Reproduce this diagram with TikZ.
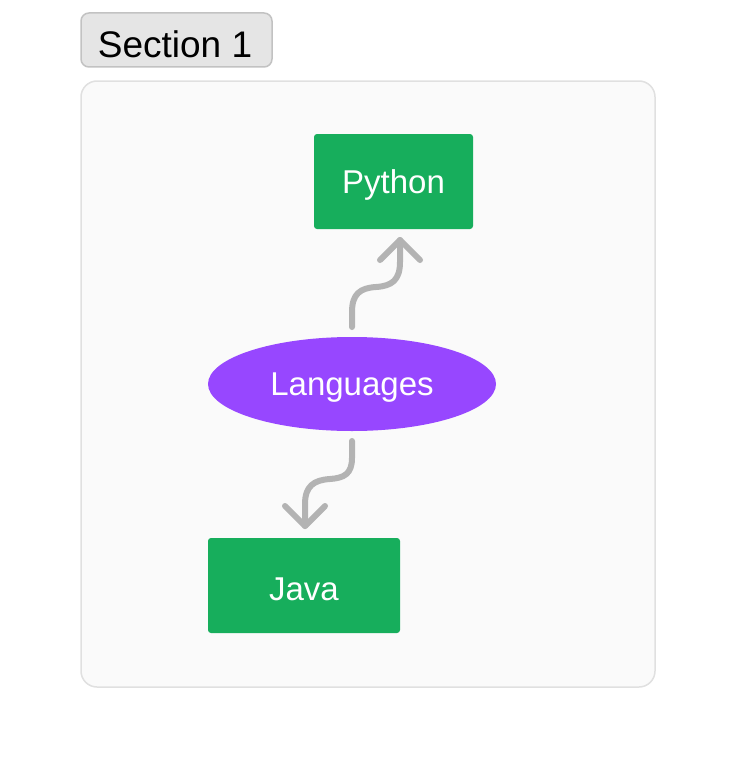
\documentclass[tikz,border=0pt]{standalone}
\usepackage{fontspec}
\setmainfont{Liberation Sans}
\definecolor{grn}{HTML}{17AE5C}
\definecolor{pur}{HTML}{9747FF}
\definecolor{conc}{HTML}{B3B3B3}
\definecolor{panelfill}{HTML}{FAFAFA}
\definecolor{panelline}{HTML}{E0E0E0}
\definecolor{tagfill}{HTML}{E5E5E5}
\definecolor{tagline}{HTML}{C2C2C2}
\begin{document}
\begin{tikzpicture}[x=1pt,y=-1pt,
  tag/.style={draw=tagline,fill=tagfill,line width=1.5pt,rounded corners=8pt},
  panel/.style={draw=panelline,fill=panelfill,line width=1.5pt,rounded corners=16pt},
  box/.style={fill=grn,rounded corners=3pt},
  lbl/.style={text=white,font=\fontsize{33}{40}\selectfont},
  conn/.style={draw=conc,line width=6pt,line cap=round,line join=round}]
\useasboundingbox (0,0) rectangle (736,768);
\draw[tag] (81,13) rectangle (272,67);
\node[text=black,font=\fontsize{37}{44}\selectfont] (sec) at (175,44) {Section 1};
\draw[panel] (81,81) rectangle (655,687);
\fill[box] (314,134) rectangle (473,229);
\node[lbl] (py) at (393.5,185) {Python};
\fill[box] (208,538) rectangle (400,633);
\node[lbl] (java) at (304,589) {Java};
\fill[pur] (352,384) ellipse [x radius=144, y radius=47];
\node[lbl] (lang) at (352,388) {Languages};
\coordinate (s1) at (352,327);
\coordinate (t1) at (400,240);
\coordinate (s2) at (352,441);
\coordinate (t2) at (305,526);
\draw[conn] (s1) -- (352,312) .. controls (352,294) and (360,288) .. (376,287) .. controls (392,286) and (400,280) .. (400,262) -- (t1);
\draw[conn] (t1) ++(-20,20) -- (t1) -- ++(20,20);
\draw[conn] (s2) -- (352,458) .. controls (352,474) and (344,478) .. (330,479) .. controls (314,480) and (305,486) .. (305,504) -- (t2);
\draw[conn] (t2) ++(-20,-20) -- (t2) -- ++(20,-20);
\end{tikzpicture}
\end{document}
